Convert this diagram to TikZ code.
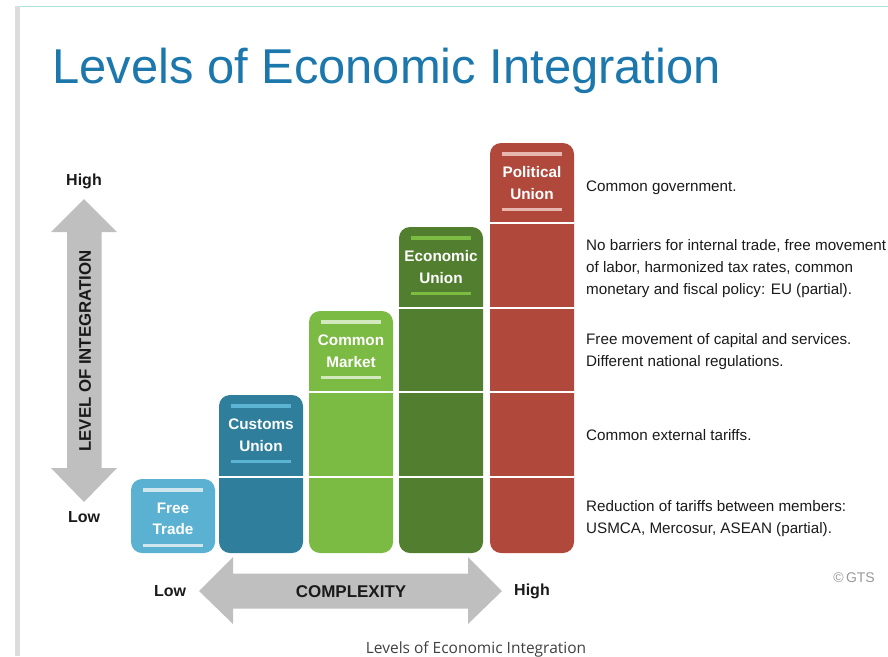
\documentclass[tikz,border=0pt]{standalone}
\usepackage{fontspec}
\setmainfont{Liberation Sans}
\newfontfamily\capfont{Open Sans}
\definecolor{titleblue}{HTML}{1B77AC}
\definecolor{ftfill}{HTML}{5AB1D1}
\definecolor{ftbar}{HTML}{CFE6EF}
\definecolor{cufill}{HTML}{2E7E9C}
\definecolor{cubar}{HTML}{5CB4D4}
\definecolor{cmfill}{HTML}{7BBA43}
\definecolor{cmbar}{HTML}{D2E9BD}
\definecolor{eufill}{HTML}{527E2F}
\definecolor{eubar}{HTML}{7DBC42}
\definecolor{pufill}{HTML}{B0483C}
\definecolor{pubar}{HTML}{E6B6AF}
\definecolor{arrowgray}{HTML}{BFBFBF}
\definecolor{ink}{HTML}{1A1A1A}
\definecolor{edgegray}{HTML}{DCDCDC}
\definecolor{rule}{HTML}{A9E2DD}
\tikzset{
  hdr/.style={text=white, font=\fontsize{15.3}{21.5}\selectfont\bfseries, align=center, inner sep=0pt},
  bar/.style={line width=3.5pt},
  divider/.style={white, line width=2pt},
  axislabel/.style={text=ink, font=\fontsize{16}{18}\selectfont\bfseries, inner sep=0pt},
  desc/.style={text=ink, font=\fontsize{15.2}{22}\selectfont, align=left, anchor=base west, inner sep=0pt},
}
\begin{document}
\begin{tikzpicture}[x=1pt,y=-1pt]
\useasboundingbox (0,0) rectangle (888,656);
% page frame
\fill[edgegray] (15,6) rectangle (20,656);
\draw[rule, line width=1.5pt] (20,6.5) -- (888,6.5);
% title
\node[anchor=base west, inner sep=0pt, text=titleblue, font=\fontsize{48.9}{50}\selectfont] (title) at (52,83.5) {Levels of Economic Integration};

% columns: name / left x / top y / fill / bar colour / label
\foreach \nm/\xl/\yt/\fc/\bc/\lab in {
  free/131/479/ftfill/ftbar/{Free\\Trade},
  customs/219/395/cufill/cubar/{Customs\\Union},
  common/309/311/cmfill/cmbar/{Common\\Market},
  economic/399/227/eufill/eubar/{Economic\\Union},
  political/490/143/pufill/pubar/{Political\\Union}}{
  \fill[\fc, rounded corners=11pt] (\xl,\yt) rectangle (\xl+84,553);
  \draw[bar, \bc] (\xl+12,\yt+11) -- (\xl+72,\yt+11);
  \draw[bar, \bc] (\xl+12,\yt+66.5) -- (\xl+72,\yt+66.5);
  \node[hdr] (\nm) at (\xl+42,\yt+40) {\lab};
}
% row separators
\draw[divider] (490,222.5) -- (574,222.5);
\draw[divider] (399,307.5) -- (574,307.5);
\draw[divider] (309,392) -- (574,392);
\draw[divider] (219,477) -- (574,477);

% vertical axis arrow
\fill[arrowgray] (84,199) -- (117,232) -- (101.5,232) -- (101.5,468) -- (117,468)
  -- (84,502) -- (51,468) -- (67,468) -- (67,232) -- (51,232) -- cycle;
\node[axislabel, font=\fontsize{16.8}{18}\selectfont\bfseries, rotate=90] (lvl) at (85,351) {LEVEL OF INTEGRATION};
\node[axislabel] (vhigh) at (84,181) {High};
\node[axislabel] (vlow) at (84,517) {Low};

% horizontal axis arrow
\fill[arrowgray] (199,591) -- (233,557) -- (233,573.5) -- (468,573.5) -- (468,557)
  -- (502,591) -- (468,624) -- (468,608.5) -- (233,608.5) -- (233,624) -- cycle;
\node[axislabel, font=\fontsize{17}{18}\selectfont\bfseries] (cplx) at (351,592) {COMPLEXITY};
\node[axislabel] (hlow) at (170,591) {Low};
\node[axislabel] (hhigh) at (532,591) {High};

% descriptions (base anchor sits on the last line)
\node[desc] (d5) at (586,191.5) {Common government.};
\node[desc] (d4) at (586,294.5) {No barriers for internal trade, free movement\\of labor, harmonized tax rates, common\\monetary and fiscal policy: EU (partial).};
\node[desc] (d3) at (586,366.5) {Free movement of capital and services.\\Different national regulations.};
\node[desc] (d2) at (586,440.5) {Common external tariffs.};
\node[desc] (d1) at (586,533.5) {Reduction of tariffs between members:\\USMCA, Mercosur, ASEAN (partial).};
\node[anchor=base east, inner sep=0pt, text=black!40, font=\fontsize{14}{16}\selectfont] (gts) at (875,582) {\textcopyright\,GTS};

% caption
\node[anchor=base, inner sep=0pt, text=black!75, font=\capfont\fontsize{15.5}{17}\selectfont] (caption) at (476,653) {Levels of Economic Integration};
\end{tikzpicture}
\end{document}
